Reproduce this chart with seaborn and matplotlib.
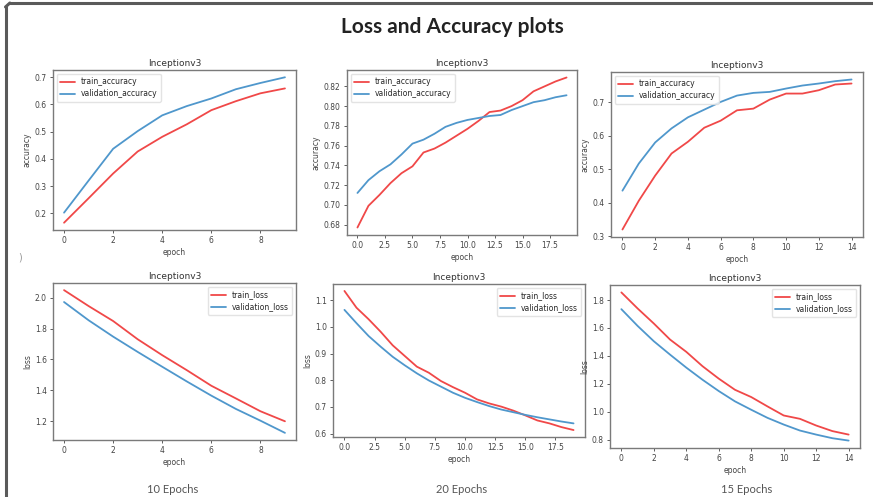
import numpy as np
import pandas as pd
import matplotlib
matplotlib.use('Agg')
import matplotlib.pyplot as plt
import seaborn as sns
from matplotlib.ticker import MultipleLocator
from matplotlib.lines import Line2D

# --- data ---
train_acc_10 = [0.165, 0.255, 0.346, 0.427, 0.481, 0.527, 0.579, 0.612, 0.641, 0.659]
val_acc_10 = [0.202, 0.320, 0.437, 0.502, 0.560, 0.594, 0.622, 0.656, 0.679, 0.700]

train_acc_20 = [0.677, 0.699, 0.710, 0.722, 0.732, 0.739, 0.753, 0.757, 0.763, 0.770,
                0.777, 0.785, 0.794, 0.7955, 0.800, 0.806, 0.815, 0.820, 0.825, 0.829]
val_acc_20 = [0.712, 0.725, 0.734, 0.741, 0.751, 0.762, 0.766, 0.772, 0.779, 0.783,
              0.786, 0.788, 0.790, 0.791, 0.796, 0.800, 0.804, 0.806, 0.809, 0.811]

train_acc_15 = [0.320, 0.406, 0.481, 0.547, 0.582, 0.624, 0.645, 0.676, 0.681, 0.708,
                0.726, 0.726, 0.736, 0.753, 0.756]
val_acc_15 = [0.436, 0.517, 0.580, 0.622, 0.655, 0.678, 0.701, 0.720, 0.728, 0.731,
              0.741, 0.750, 0.756, 0.763, 0.768]

train_loss_10 = [2.049, 1.946, 1.849, 1.731, 1.628, 1.531, 1.430, 1.348, 1.265, 1.200]
val_loss_10 = [1.972, 1.854, 1.748, 1.649, 1.553, 1.458, 1.366, 1.280, 1.204, 1.125]

train_loss_20 = [1.135, 1.072, 1.029, 0.982, 0.931, 0.891, 0.851, 0.828, 0.797, 0.774,
                 0.753, 0.728, 0.713, 0.701, 0.686, 0.668, 0.649, 0.638, 0.624, 0.613]
val_loss_20 = [1.064, 1.014, 0.966, 0.926, 0.888, 0.856, 0.826, 0.799, 0.776, 0.753,
               0.734, 0.718, 0.703, 0.690, 0.680, 0.670, 0.661, 0.653, 0.645, 0.638]

train_loss_15 = [1.855, 1.740, 1.632, 1.517, 1.429, 1.326, 1.237, 1.157, 1.105, 1.038,
                 0.973, 0.949, 0.901, 0.861, 0.836]
val_loss_15 = [1.735, 1.615, 1.505, 1.409, 1.316, 1.229, 1.148, 1.074, 1.014, 0.956,
               0.908, 0.865, 0.836, 0.810, 0.793]

epoch_labels = ['10 Epochs', '20 Epochs', '15 Epochs']

RED = '#f04848'
BLUE = '#4f97cc'
W, H = 873, 497

sns.set_theme(style='ticks')
plt.rcParams['font.family'] = ['DejaVu Sans']

fig = plt.figure(figsize=(W / 100, H / 100), dpi=100)
fig.patch.set_facecolor('white')

# slide frame: only the left and top edges show
fx, fy = 5.5 / W, 1 - 3 / H
fig.add_artist(Line2D([fx, fx], [0, fy - 0.008], transform=fig.transFigure,
                      color='#5a5a5a', linewidth=2.2))
fig.add_artist(Line2D([fx + 0.005, 1], [fy, fy], transform=fig.transFigure,
                      color='#5a5a5a', linewidth=2.2))
fig.add_artist(Line2D([fx, fx + 0.005], [fy - 0.008, fy], transform=fig.transFigure,
                      color='#5a5a5a', linewidth=2.2, solid_capstyle='round'))

fig.text(452 / W, 1 - 27 / H, 'Loss and Accuracy plots', ha='center', va='center',
         fontsize=15, fontweight='bold', family='Lato', color='#222222')
fig.text(20 / W, 1 - 258 / H, ')', ha='center', va='center', fontsize=7,
         color='#999999')


def add_axes(l, r, t, b):
    return fig.add_axes([l / W, 1 - b / H, (r - l) / W, (b - t) / H])


boxes = [
    (53, 296, 70, 230), (347, 577, 70, 235), (611, 863, 72, 237),
    (53, 296, 283, 440), (333, 585, 284, 437), (610, 860, 285, 448),
]
series = [
    (train_acc_10, val_acc_10, 'accuracy', 2),
    (train_acc_20, val_acc_20, 'accuracy', 2.5),
    (train_acc_15, val_acc_15, 'accuracy', 2),
    (train_loss_10, val_loss_10, 'loss', 2),
    (train_loss_20, val_loss_20, 'loss', 2.5),
    (train_loss_15, val_loss_15, 'loss', 2),
]

for box, (tr, va, kind, step) in zip(boxes, series):
    ax = add_axes(*box)
    df = pd.DataFrame({'epoch': np.arange(len(tr)), 'train': tr, 'val': va})
    sns.lineplot(data=df, x='epoch', y='train', ax=ax, color=RED, linewidth=1.3,
                 label=f'train_{kind}')
    sns.lineplot(data=df, x='epoch', y='val', ax=ax, color=BLUE, linewidth=1.3,
                 label=f'validation_{kind}')
    ax.xaxis.set_major_locator(MultipleLocator(step))
    if step == 2.5:
        ax.xaxis.set_major_formatter(plt.FuncFormatter(lambda v, p: f'{v:.1f}'))
    ax.set_title('Inceptionv3', fontsize=6.5, color='#333333', pad=3)
    ax.set_xlabel('epoch', fontsize=5.5, color='#444444', labelpad=2)
    ax.set_ylabel(kind, fontsize=5.5, color='#444444', labelpad=2)
    ax.tick_params(labelsize=5.5, colors='#444444', length=2.5, width=0.6, pad=2)
    for s in ax.spines.values():
        s.set_color('#7a7a7a')
        s.set_linewidth(1.0)
    ax.legend(loc='upper left' if kind == 'accuracy' else 'upper right',
              fontsize=5.5, frameon=True, edgecolor='#dddddd', fancybox=True,
              handlelength=1.9, handletextpad=0.8, borderpad=0.45,
              labelspacing=0.4)

# captions along the bottom edge of the slide (mostly cut off in the source)
for x, lab in zip([173, 462, 747], epoch_labels):
    fig.text(x / W, 1 - 495 / H, lab, ha='center', va='bottom', fontsize=8,
             family='Lato', color='#555555')

fig.savefig('out.png', dpi=100)
